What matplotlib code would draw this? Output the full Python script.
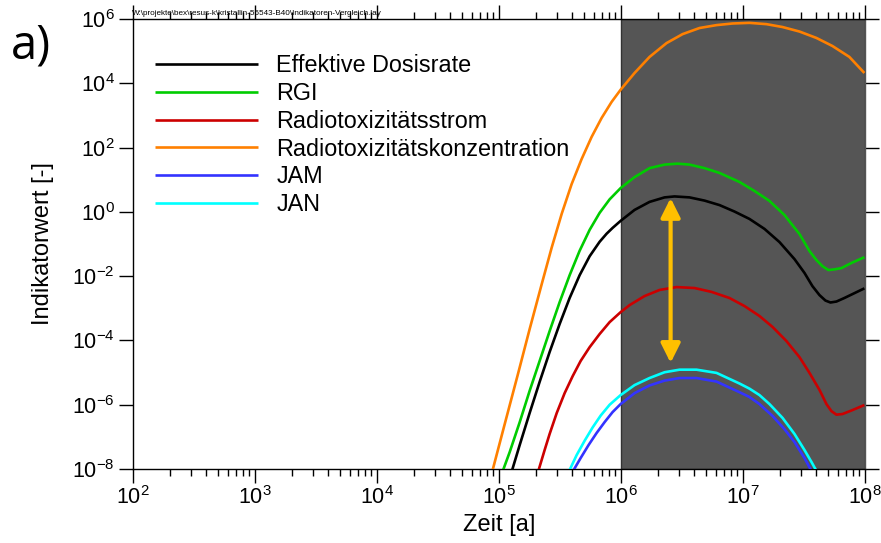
import numpy as np
import matplotlib
matplotlib.use("Agg")
import matplotlib.pyplot as plt
from matplotlib.ticker import FixedLocator, LogLocator, FuncFormatter, NullFormatter

plt.rcParams['font.family'] = ['Liberation Sans', 'DejaVu Sans']
plt.rcParams['mathtext.fontset'] = 'custom'
plt.rcParams['mathtext.rm'] = 'Liberation Sans'
plt.rcParams['mathtext.it'] = 'Liberation Sans:italic'
plt.rcParams['mathtext.bf'] = 'Liberation Sans:bold'

# ---- data (log10 of time [a] and log10 of indicator value [-]) ----
orange_logt = [4.948, 5.047, 5.153, 5.251, 5.350, 5.432, 5.514, 5.595, 5.677, 5.759, 5.841, 5.923, 5.997,
               6.111, 6.234, 6.373, 6.505, 6.644, 6.783, 6.914, 7.053, 7.192, 7.324, 7.463, 7.602, 7.733,
               7.872, 7.995]
orange_logv = [-8.03, -6.60, -5.08, -3.65, -2.25, -1.11, -0.06, 0.86, 1.64, 2.33, 2.92, 3.42, 3.80,
               4.32, 4.82, 5.25, 5.53, 5.72, 5.81, 5.86, 5.88, 5.84, 5.75, 5.61, 5.41, 5.16,
               4.82, 4.32]

green_logt = [5.034, 5.088, 5.170, 5.251, 5.333, 5.415, 5.497, 5.579, 5.661, 5.743, 5.825, 5.907, 5.997,
              6.111, 6.234, 6.357, 6.464, 6.562, 6.685, 6.808, 6.971, 7.094, 7.217, 7.340, 7.463, 7.545,
              7.602, 7.651, 7.700, 7.749, 7.807, 7.889, 7.995]
green_logv = [-8.03, -7.47, -6.54, -5.57, -4.64, -3.71, -2.81, -1.97, -1.21, -0.56, -0.03, 0.39, 0.74,
              1.08, 1.36, 1.47, 1.50, 1.47, 1.36, 1.21, 0.93, 0.65, 0.34, -0.10, -0.69, -1.22,
              -1.50, -1.69, -1.81, -1.79, -1.75, -1.59, -1.41]

black_logt = [5.108, 5.170, 5.251, 5.333, 5.415, 5.497, 5.579, 5.661, 5.743, 5.825, 5.882, 5.931, 5.997,
              6.111, 6.234, 6.357, 6.439, 6.562, 6.685, 6.808, 6.930, 7.053, 7.176, 7.299, 7.422, 7.504,
              7.569, 7.627, 7.676, 7.717, 7.766, 7.831, 7.913, 7.995]
black_logv = [-8.03, -7.25, -6.26, -5.29, -4.36, -3.49, -2.68, -1.97, -1.38, -0.93, -0.68, -0.50, -0.28,
              0.06, 0.31, 0.45, 0.48, 0.45, 0.35, 0.21, 0.01, -0.22, -0.53, -0.94, -1.47, -1.90,
              -2.31, -2.59, -2.76, -2.82, -2.79, -2.68, -2.53, -2.38]

red_logt = [5.325, 5.374, 5.415, 5.473, 5.538, 5.604, 5.669, 5.743, 5.825, 5.907, 5.997, 6.071, 6.193,
            6.316, 6.455, 6.603, 6.742, 6.889, 7.012, 7.135, 7.242, 7.356, 7.463, 7.545, 7.627, 7.684,
            7.725, 7.766, 7.815, 7.889, 7.995]
red_logv = [-8.03, -7.41, -6.91, -6.26, -5.64, -5.11, -4.64, -4.21, -3.80, -3.43, -3.12, -2.90, -2.62,
            -2.43, -2.34, -2.37, -2.49, -2.68, -2.93, -3.24, -3.58, -4.02, -4.52, -5.01, -5.54, -5.98,
            -6.20, -6.31, -6.29, -6.18, -6.01]

cyan_logt = [5.579, 5.636, 5.702, 5.767, 5.833, 5.907, 5.997, 6.111, 6.234, 6.357, 6.480, 6.619, 6.783,
             6.971, 7.053, 7.135, 7.217, 7.324, 7.422, 7.504, 7.561, 7.602]
cyan_logv = [-8.03, -7.57, -7.12, -6.71, -6.34, -6.00, -5.70, -5.39, -5.17, -4.99, -4.91, -4.91, -5.01,
             -5.34, -5.50, -5.70, -5.98, -6.41, -6.91, -7.41, -7.78, -8.06]

blue_logt = [5.612, 5.669, 5.735, 5.800, 5.866, 5.931, 5.997, 6.111, 6.234, 6.357, 6.480, 6.619, 6.783,
             6.971, 7.053, 7.135, 7.242, 7.340, 7.422, 7.504, 7.561]
blue_logv = [-8.03, -7.66, -7.25, -6.88, -6.54, -6.23, -5.98, -5.64, -5.40, -5.25, -5.17, -5.17, -5.28,
             -5.61, -5.76, -5.98, -6.35, -6.76, -7.16, -7.66, -8.06]

series = [
    ("Effektive Dosisrate", black_logt, black_logv, "#000000"),
    ("RGI", green_logt, green_logv, "#00CC00"),
    ("Radiotoxizitätsstrom", red_logt, red_logv, "#CC0000"),
    ("Radiotoxizitätskonzentration", orange_logt, orange_logv, "#FF8000"),
    ("JAM", blue_logt, blue_logv, "#3333FF"),
    ("JAN", cyan_logt, cyan_logv, "#00FFFF"),
]

shade_start, shade_end = 1e6, 1e8
arrow_t = 2.55e6
arrow_top, arrow_bottom = 2.7, 2.0e-5

xlim = (1e2, 1e8)
ylim = (1e-8, 1e6)
yticks_exp = [-8, -6, -4, -2, 0, 2, 4, 6]
xticks_exp = [2, 3, 4, 5, 6, 7, 8]

# ---- figure ----
fig = plt.figure(figsize=(8.81, 5.43), dpi=100)
ax = fig.add_axes([133/881, 1-469/543, 732/881, 450/543])
ax.set_xscale('log')
ax.set_yscale('log')
ax.set_xlim(*xlim)
ax.set_ylim(*ylim)

ax.axvspan(shade_start, shade_end, facecolor='#555555', edgecolor='#333333', lw=1.0, zorder=0)

for label, lt, lv, col in series:
    ax.plot(np.power(10.0, lt), np.power(10.0, lv), color=col, lw=1.9, label=label,
            solid_capstyle='butt', solid_joinstyle='round', zorder=3)

ax.annotate('', xy=(arrow_t, arrow_top), xytext=(arrow_t, arrow_bottom),
            arrowprops=dict(arrowstyle='<|-|>,head_length=0.4,head_width=0.2',
                            color='#FFC000', lw=3.0, mutation_scale=29,
                            shrinkA=0, shrinkB=0), zorder=4)

ax.xaxis.set_major_locator(FixedLocator([10.0**e for e in xticks_exp]))
ax.xaxis.set_minor_locator(LogLocator(base=10, subs=np.arange(2, 10), numticks=20))
ax.xaxis.set_minor_formatter(NullFormatter())
ax.yaxis.set_major_locator(FixedLocator([10.0**e for e in yticks_exp]))
ax.yaxis.set_minor_locator(FixedLocator([]))

fmt = FuncFormatter(lambda v, p: r'$\mathdefault{10^{%d}}$' % int(round(np.log10(v))))
ax.xaxis.set_major_formatter(fmt)
ax.yaxis.set_major_formatter(fmt)

ax.tick_params(which='major', direction='out', length=10, width=1, labelsize=15.5,
               top=True, right=True, color='black')
ax.tick_params(which='minor', direction='out', length=5, width=1, top=True, right=False)
ax.tick_params(axis='x', which='major', pad=2)
ax.tick_params(axis='y', which='major', pad=3)
for s in ['left', 'bottom', 'top']:
    ax.spines[s].set_linewidth(1.0)
ax.spines['right'].set_color('#555555')
ax.spines['right'].set_linewidth(1.0)

ax.set_xlabel('Zeit [a]', fontsize=17, labelpad=4)
ax.set_ylabel('Indikatorwert [-]', fontsize=17, labelpad=13)

leg = ax.legend(loc='upper left', bbox_to_anchor=((155-133)/732, 1-(54.5-19)/450),
                frameon=False, fontsize=16.8, handlelength=4.4, handletextpad=0.8,
                labelspacing=0.20, borderpad=0, borderaxespad=0)

fig.text(11/881, 1-58/543, 'a)', fontsize=34, family=['Open Sans', 'DejaVu Sans'], va='baseline')
fig.text(132/881, 1-15/543,
         r'W:\projekte\bex\resus-k\kristallin-56543-B40\Indikatoren-Vergleich.lay',
         fontsize=5.9, va='baseline')

fig.savefig('out.png', dpi=100)
